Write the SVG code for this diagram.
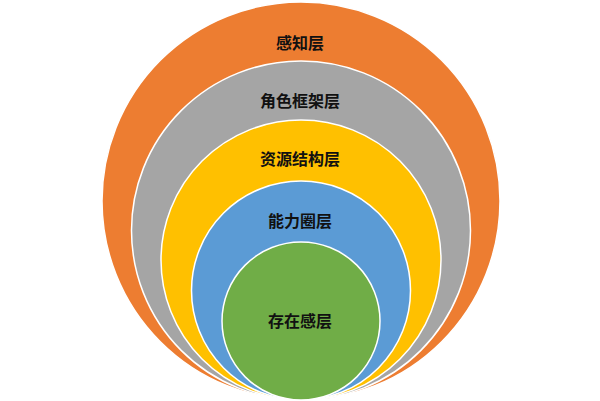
<svg xmlns="http://www.w3.org/2000/svg" width="600" height="401" viewBox="0 0 600 401">
<style>
.ring{stroke:#ffffff;stroke-width:1.5}
.lbl{font-family:"Noto Sans CJK SC","Noto Sans",sans-serif;font-size:16px;font-weight:bold;fill:#111111;text-anchor:middle;dominant-baseline:central}
</style>
<rect width="600" height="401" fill="#ffffff"/>
<g id="perception">
<circle class="ring" cx="301" cy="201" r="199" fill="#ED7D31"/>
<text class="lbl" x="300" y="42">感知层</text>
</g>
<g id="role-frame">
<circle class="ring" cx="301" cy="230.5" r="169.5" fill="#A5A5A5"/>
<text class="lbl" x="300" y="100">角色框架层</text>
</g>
<g id="resource">
<circle class="ring" cx="301" cy="260" r="140" fill="#FFC000"/>
<text class="lbl" x="300" y="158">资源结构层</text>
</g>
<g id="ability">
<circle class="ring" cx="301" cy="290.5" r="109.5" fill="#5B9BD5"/>
<text class="lbl" x="300" y="220">能力圈层</text>
</g>
<g id="existence">
<circle class="ring" cx="301" cy="321" r="79" fill="#70AD47"/>
<text class="lbl" x="300" y="320">存在感层</text>
</g>
<g id="connectors"></g>
</svg>
